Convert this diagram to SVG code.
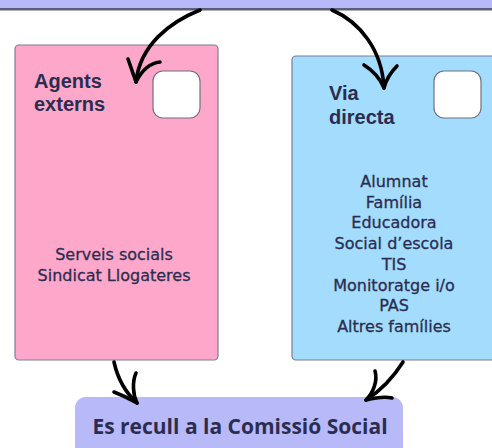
<svg xmlns="http://www.w3.org/2000/svg" width="492" height="448" viewBox="0 0 492 448">
<style>
.card{stroke:#7a7d98;stroke-width:1.2}
.sq{fill:#fff;stroke:#6f7180;stroke-width:1.2}
.t{fill:#2b2d50}
.h{font-family:"Liberation Sans",Arial,sans-serif;font-size:20px;font-weight:700}
.b{font-family:"DejaVu Sans","Noto Sans",sans-serif;font-size:16px;text-anchor:middle;stroke:#2b2d50;stroke-width:0.3}
.arr{fill:none;stroke:#000;stroke-width:3.6;stroke-linecap:round;stroke-linejoin:round}
</style>
<rect width="492" height="448" fill="#fff"/>
<g id="top">
<rect x="-2" y="-10" width="496" height="19" fill="#b8b9f8"/>
<rect x="-2" y="8" width="496" height="2.5" fill="#5c5f78"/>
</g>
<g id="agents">
<rect class="card" x="15" y="45" width="203" height="315" rx="4" fill="#fda8ca"/>
<rect class="sq" x="153" y="71" width="47" height="47" rx="10"/>
<text class="t h" x="34" y="88">Agents</text>
<text class="t h" x="34" y="111">externs</text>
<text class="t b" x="114" y="260">Serveis socials</text>
<text class="t b" x="114" y="281">Sindicat Llogateres</text>
</g>
<g id="via">
<rect class="card" x="292" y="56" width="220" height="304" rx="4" fill="#a3dcfc"/>
<rect class="sq" x="434" y="71" width="47" height="47" rx="10"/>
<text class="t h" x="329" y="100">Via</text>
<text class="t h" x="329" y="124">directa</text>
<text class="t b" x="394" y="187">Alumnat</text>
<text class="t b" x="394" y="208">Família</text>
<text class="t b" x="394" y="228">Educadora</text>
<text class="t b" x="394" y="249">Social d’escola</text>
<text class="t b" x="394" y="270">TIS</text>
<text class="t b" x="394" y="291">Monitoratge i/o</text>
<text class="t b" x="394" y="311">PAS</text>
<text class="t b" x="394" y="332">Altres famílies</text>
</g>
<g id="comissio">
<rect x="75" y="397" width="328" height="70" rx="11" fill="#b8b9f8"/>
<text class="t" x="240" y="434" font-family="'Open Sans','Noto Sans',sans-serif" font-size="21" font-weight="700" text-anchor="middle">Es recull a la Comissió Social</text>
</g>
<g id="connectors">
<path class="arr" d="M200 10 C170 22 140 45 136 82"/>
<path class="arr" d="M128 59 L136 82 M160 62 C150 63 142 70 136 82"/>
<path class="arr" d="M332 10 C360 22 382 50 384 88"/>
<path class="arr" d="M364 65 C372 70 380 78 384 88 M397 66 C390 73 386 80 384 88"/>
<path class="arr" d="M114 362 C118 380 126 393 137 403"/>
<path class="arr" d="M114 392 C122 395 130 399 137 403 M136 373 C132 382 133 395 137 403"/>
<path class="arr" d="M403 362 C393 378 380 391 366 400"/>
<path class="arr" d="M375 371 C378 381 373 393 366 400 M392 398 C384 396 374 398 366 400"/>
</g>
</svg>
